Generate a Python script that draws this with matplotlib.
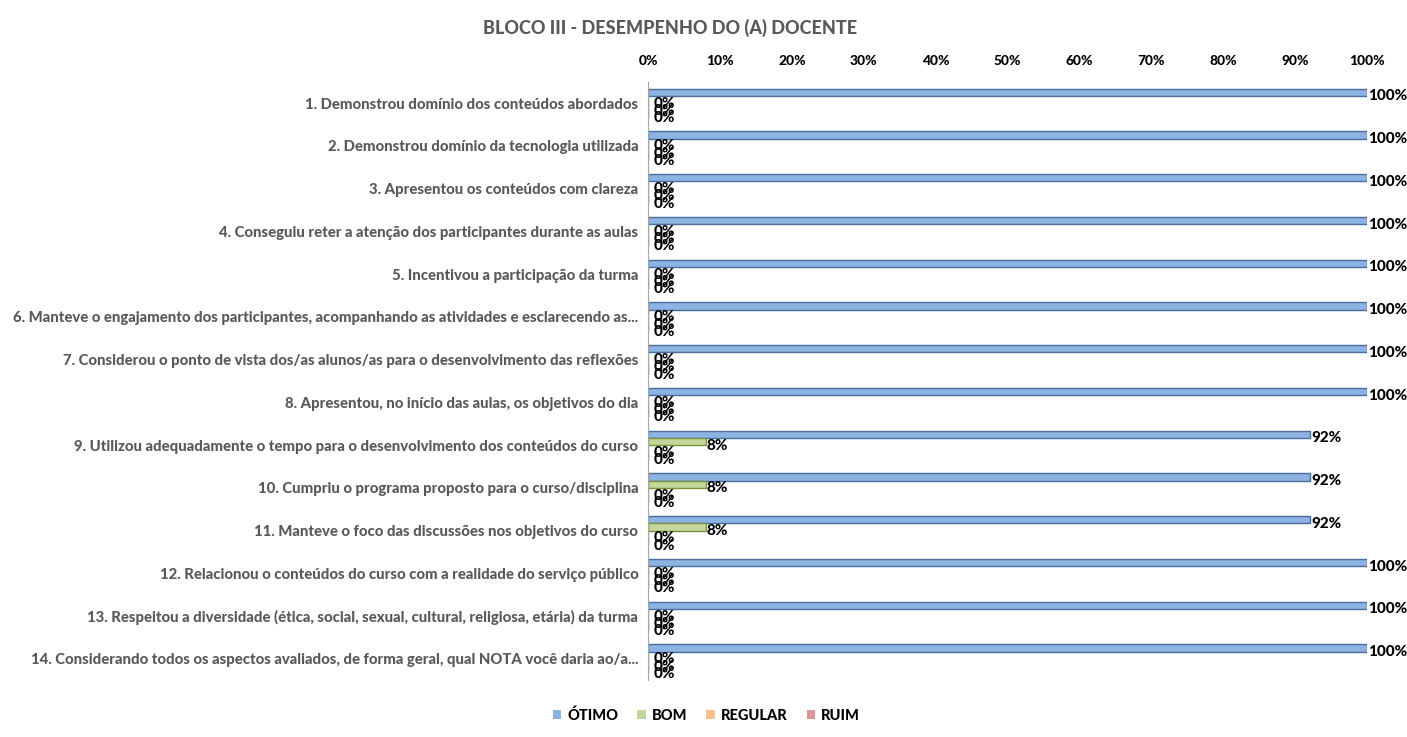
import matplotlib
matplotlib.use("Agg")
import matplotlib.pyplot as plt
import numpy as np
from matplotlib.patches import Patch

plt.rcParams["font.family"] = ["Lato", "DejaVu Sans"]

categories = [
    "1. Demonstrou domínio dos conteúdos abordados",
    "2. Demonstrou domínio da tecnologia utilizada",
    "3. Apresentou os conteúdos com clareza",
    "4. Conseguiu reter a atenção dos participantes durante as aulas",
    "5. Incentivou a participação da turma",
    "6. Manteve o engajamento dos participantes, acompanhando as atividades e esclarecendo as...",
    "7. Considerou o ponto de vista dos/as alunos/as para o desenvolvimento das reflexões",
    "8. Apresentou, no início das aulas, os objetivos do dia",
    "9. Utilizou adequadamente o tempo para o desenvolvimento dos conteúdos do curso",
    "10. Cumpriu o programa proposto para o curso/disciplina",
    "11. Manteve o foco das discussões nos objetivos do curso",
    "12. Relacionou o conteúdos do curso com a realidade do serviço público",
    "13. Respeitou a diversidade (ética, social, sexual, cultural, religiosa, etária) da turma",
    "14. Considerando todos os aspectos avaliados, de forma geral, qual NOTA você daria ao/a...",
]
otimo = [100, 100, 100, 100, 100, 100, 100, 100, 92, 92, 92, 100, 100, 100]
bom = [0, 0, 0, 0, 0, 0, 0, 0, 8, 8, 8, 0, 0, 0]
regular = [0] * 14
ruim = [0] * 14

series = [
    ("ÓTIMO", otimo, "#8DB3E2", "#4A6E9C"),
    ("BOM", bom, "#C3D69B", "#77933C"),
    ("REGULAR", regular, "#FAC090", "#C77B3A"),
    ("RUIM", ruim, "#D99694", "#953735"),
]

fig = plt.figure(figsize=(14.07, 7.37), dpi=100)
ax = fig.add_axes([0.4606, 0.077, 0.5110, 0.812])

y = np.arange(len(categories))
bar_h = 0.17
offsets = [-1.5, -0.5, 0.5, 1.5]

for (name, vals, face, edge), off in zip(series, offsets):
    frac = np.array(vals) / 100.0
    bars = ax.barh(y + off * bar_h, frac, height=bar_h, color=face,
                   edgecolor=edge, linewidth=1.0, label=name)
    for b, v in zip(bars, vals):
        dx = 1 if v > 0 else 4
        ax.annotate(f"{v}%", (b.get_width(), b.get_y() + b.get_height() / 2),
                    xytext=(dx, -3), textcoords="offset points",
                    ha="left", va="center", fontsize=11, fontweight="black",
                    color="black")

ax.set_xlim(0, 1)
ax.set_ylim(len(categories) - 0.5, -0.5)
ax.xaxis.tick_top()
ticks = np.arange(0, 1.01, 0.1)
ax.set_xticks(ticks)
ax.set_xticklabels([f"{int(round(t * 100))}%" for t in ticks],
                   fontsize=10, fontweight="black")
ax.set_yticks(y)
ax.set_yticklabels(categories, fontsize=10.7, fontweight="black", color="#595959")
ax.tick_params(axis="y", length=0, pad=7)
ax.tick_params(axis="x", length=0, pad=11)
for s in ["top", "right", "bottom"]:
    ax.spines[s].set_visible(False)
ax.spines["left"].set_color("#A6A6A6")

fig.text(0.476, 0.962, "BLOCO III - DESEMPENHO DO (A) DOCENTE", ha="center",
         va="center", fontsize=13, fontweight="black", color="#595959")

handles = [Patch(facecolor=f, edgecolor="none", label=n) for n, _, f, _ in series]
fig.legend(handles=handles, loc="center", bbox_to_anchor=(0.502, 0.029), ncol=4,
           frameon=False, handlelength=0.6, handleheight=0.6, handletextpad=0.4,
           columnspacing=1.3, prop={"weight": "black", "size": 10.5})

fig.savefig("out.png", dpi=100)
